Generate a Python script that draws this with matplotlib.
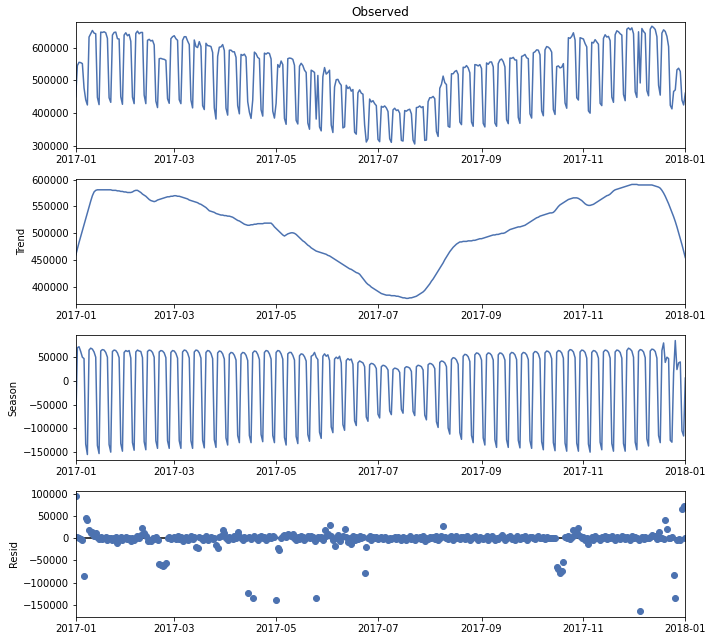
import numpy as np
import pandas as pd
import matplotlib
matplotlib.use("Agg")
import matplotlib.pyplot as plt
import matplotlib.dates as mdates

dates = pd.date_range("2017-01-01", "2018-01-01", freq="D")

# Trend (thousands), daily
trend_k = [
    459, 471, 483, 494, 505, 516, 527, 538, 549, 560,
    570, 577, 580, 581, 581, 581, 581, 581, 581, 581,
    581, 581, 580, 580, 580, 579, 579, 578, 578, 577,
    577, 576, 576, 576, 577, 579, 580, 580, 578, 576,
    573, 571, 569, 566, 563, 561, 560, 559, 560, 562,
    563, 564, 565, 566, 567, 568, 568, 569, 569, 570,
    570, 569, 569, 568, 567, 566, 565, 564, 562, 561,
    560, 559, 558, 557, 555, 554, 552, 550, 548, 545,
    542, 541, 540, 539, 537, 536, 535, 534, 534, 533,
    533, 532, 532, 531, 530, 528, 526, 524, 523, 521,
    519, 517, 516, 515, 515, 516, 516, 517, 517, 518,
    518, 518, 518, 519, 519, 519, 519, 519, 516, 512,
    509, 506, 503, 500, 497, 495, 497, 499, 500, 501,
    501, 500, 498, 495, 492, 489, 486, 484, 481, 478,
    476, 473, 471, 469, 467, 466, 465, 464, 463, 462,
    461, 459, 458, 456, 454, 452, 450, 448, 446, 444,
    442, 440, 438, 436, 434, 433, 431, 429, 427, 426,
    424, 420, 416, 412, 408, 405, 403, 400, 398, 396,
    394, 392, 390, 388, 387, 386, 385, 385, 385, 384,
    384, 384, 383, 383, 382, 381, 380, 380, 379, 379,
    380, 380, 381, 382, 383, 385, 387, 389, 391, 394,
    398, 402, 406, 411, 415, 420, 425, 430, 435, 440,
    445, 451, 456, 461, 466, 470, 474, 477, 480, 482,
    484, 484, 485, 485, 485, 486, 486, 486, 487, 487,
    488, 489, 490, 490, 491, 492, 493, 494, 495, 496,
    497, 497, 498, 498, 499, 500, 500, 501, 503, 505,
    507, 508, 509, 510, 511, 512, 512, 513, 514, 515,
    517, 519, 521, 523, 525, 527, 529, 530, 532, 533,
    534, 535, 536, 537, 538, 538, 539, 542, 546, 550,
    553, 555, 557, 559, 561, 563, 564, 565, 566, 566,
    566, 565, 563, 561, 558, 555, 553, 552, 552, 553,
    554, 556, 558, 560, 562, 564, 566, 568, 570, 571,
    573, 576, 579, 581, 582, 583, 584, 585, 586, 587,
    588, 589, 590, 591, 591, 591, 591, 590, 590, 590,
    590, 590, 590, 590, 590, 590, 589, 588, 587, 586,
    584, 580, 575, 569, 562, 555, 547, 539, 531, 522,
    512, 501, 490, 479, 467, 455,
]

# Season (thousands), one row per week: Sun, Mon, Tue, Wed, Thu, Fri, Sat
season_weeks_k = [
    [-104, 70, 72, 62, 50, 47, -133],
    [-155, 65, 69, 67, 61, 50, -136],
    [-153, 63, 66, 65, 60, 50, -134],
    [-150, 62, 65, 64, 59, 49, -132],
    [-148, 60, 64, 62, 64, 48, -130],
    [-146, 61, 65, 63, 62, 49, -128],
    [-145, 62, 65, 64, 60, 50, -126],
    [-142, 61, 64, 63, 59, 49, -126],
    [-142, 60, 64, 63, 58, 48, -126],
    [-142, 61, 65, 64, 59, 48, -126],
    [-142, 61, 65, 64, 59, 48, -125],
    [-141, 60, 64, 63, 58, 47, -124],
    [-140, 59, 63, 62, 57, 46, -120],
    [-135, 56, 60, 59, 54, 44, -115],
    [-130, 56, 60, 59, 54, 43, -115],
    [-130, 59, 63, 62, 56, 45, -113],
    [-128, 60, 64, 63, 57, 46, -115],
    [-130, 60, 64, 63, 57, 46, -119],
    [-135, 57, 60, 60, 54, 44, -117],
    [-132, 53, 57, 56, 51, 42, -113],
    [-127, 52, 54, 60, 50, 45, -108],
    [-121, 52, 57, 52, 55, 43, -97],
    [-109, 46, 50, 47, 52, 38, -92],
    [-104, 43, 47, 44, 46, 35, -84],
    [-94, 38, 42, 40, 38, 30, -76],
    [-85, 34, 37, 36, 33, 26, -70],
    [-78, 30, 33, 32, 29, 23, -63],
    [-71, 24, 27, 26, 24, 18, -60],
    [-68, 27, 30, 29, 27, 20, -64],
    [-73, 30, 33, 32, 30, 23, -72],
    [-82, 34, 37, 36, 33, 26, -86],
    [-98, 39, 42, 41, 38, 30, -99],
    [-112, 45, 49, 48, 44, 35, -109],
    [-123, 52, 56, 55, 51, 41, -115],
    [-130, 55, 59, 58, 54, 44, -120],
    [-135, 55, 59, 58, 54, 44, -124],
    [-140, 55, 59, 58, 54, 44, -124],
    [-140, 56, 60, 59, 55, 45, -125],
    [-141, 56, 60, 59, 55, 45, -126],
    [-142, 58, 62, 61, 57, 46, -128],
    [-145, 59, 63, 62, 58, 47, -130],
    [-147, 60, 64, 63, 59, 48, -131],
    [-148, 62, 66, 65, 61, 49, -131],
    [-148, 61, 65, 64, 60, 48, -133],
    [-150, 60, 64, 63, 59, 48, -129],
    [-145, 61, 65, 64, 60, 48, -132],
    [-148, 61, 65, 64, 60, 48, -132],
    [-148, 64, 69, 67, 63, 50, -129],
    [-145, 62, 66, 65, 61, 49, -122],
    [-137, 63, 67, 66, 62, 48, -115],
    [-130, 64, 80, 39, 50, 47, -125],
    [-129, 17, 85, 24, 38, 40, -105],
    [-116, 6],
]

# Residual (thousands), one row per week: Sun..Sat
resid_weeks_k = [
    [95, 4, 0, -2, -4, -86, 47],
    [42, 18, 13, 15, 6, 12, 3],
    [-2, 3, -1, 2, 4, -3, 0],
    [2, -4, 1, 3, -11, -2, 4],
    [-3, 1, 4, -2, 0, -5, 2],
    [-4, 2, 5, 1, 8, 24, 12],
    [5, -6, -3, -5, 2, -1, 3],
    [-3, -58, -61, -63, -61, -55, 2],
    [4, -2, 0, 3, -1, 5, -2],
    [3, -6, 2, 4, -3, -1, 5],
    [-2, 3, -20, -21, 4, 1, -4],
    [2, 5, -3, 0, 4, -2, 1],
    [-15, -22, 3, 6, 18, 12, 2],
    [-3, 4, 1, -2, 5, 0, 14],
    [5, 2, -3, 4, 1, -123, 3],
    [-2, -135, 6, 2, -4, 3, 5],
    [1, 4, -3, 2, 6, 0, 5],
    [3, -139, -22, -26, 2, 5, 8],
    [4, 10, 8, 6, 9, 2, -3],
    [4, -2, 6, 3, -4, 1, 5],
    [2, 6, 3, -5, -135, 4, 1],
    [3, -4, 20, 6, 10, 30, 5],
    [-4, -18, 2, 8, -6, 3, 5],
    [22, 4, -8, 2, -12, 6, -3],
    [3, -2, 5, 1, 4, -78, -20],
    [2, 6, -3, 4, 0, 3, -2],
    [1, 3, -2, 4, 2, -3, 0],
    [-2, 2, 4, -1, 3, 0, -4],
    [3, 1, -3, 2, 5, -2, 1],
    [-3, 4, 0, 3, -2, 6, -5],
    [2, -1, 4, 0, 3, -2, 5],
    [-3, 2, 6, 27, 4, 1, -2],
    [3, 5, -3, 2, 6, 1, -2],
    [4, 3, -2, 5, 1, -4, 2],
    [3, 6, 0, -3, 4, 2, -2],
    [1, 5, -4, 3, 6, 0, -3],
    [2, -2, 4, 7, 3, -4, 1],
    [3, 5, -1, 2, -3, 6, 0],
    [-2, 4, 1, 5, -3, 2, 3],
    [4, 1, -2, 3, 5, 0, 2],
    [3, -1, 4, 2, 0, 1, 2],
    [1, -64, -70, -78, -74, -54, 3],
    [2, 5, -2, 4, 18, 8, 12],
    [23, 6, 2, 4, -3, 1, -12],
    [-2, 3, -4, 5, 0, 2, -3],
    [4, 1, 6, -2, 3, 0, 5],
    [2, -3, 4, 1, -2, 5, 3],
    [-1, 4, 2, -3, 6, 1, 3],
    [2, -4, -164, 3, -2, 4, 1],
    [0, 3, 8, 6, 5, -2, 14],
    [1, 0, -1, 41, 22, 1, 2],
    [3, -82, -136, -4, -2, -3, 66],
    [74, 0],
]

trend = pd.Series(np.array(trend_k, dtype=float) * 1000, index=dates)
season = pd.Series(np.array([v for w in season_weeks_k for v in w], dtype=float) * 1000, index=dates)
resid = pd.Series(np.array([v for w in resid_weeks_k for v in w], dtype=float) * 1000, index=dates)
observed = trend + season + resid

color = "#4c72b0"
fig, axs = plt.subplots(4, 1, figsize=(712 / 72, 640 / 72), dpi=72)
fig.subplots_adjust(left=0.1063, right=0.9625, top=0.9652, bottom=0.0367, hspace=0.247)

axs[0].plot(observed.index, observed.values, color=color)
axs[0].set_title("Observed")
axs[0].set_ylim(295000, 677000)

axs[1].plot(trend.index, trend.values, color=color)
axs[1].set_ylabel("Trend")
axs[1].set_ylim(368700, 601900)

axs[2].plot(season.index, season.values, color=color)
axs[2].set_ylabel("Season")
axs[2].set_ylim(-167000, 97000)

axs[3].plot(resid.index, resid.values, marker="o", linestyle="none", color=color)
axs[3].plot([dates[0], dates[-1]], [0, 0], color="#000000", zorder=-3)
axs[3].set_ylabel("Resid")
axs[3].set_ylim(-177000, 107000)

for ax in axs:
    ax.set_xlim(dates[0], dates[-1])
    ax.xaxis.set_major_locator(mdates.MonthLocator(bymonth=[1, 3, 5, 7, 9, 11]))
    ax.xaxis.set_major_formatter(mdates.DateFormatter("%Y-%m"))

fig.savefig("out.png", dpi=72)
